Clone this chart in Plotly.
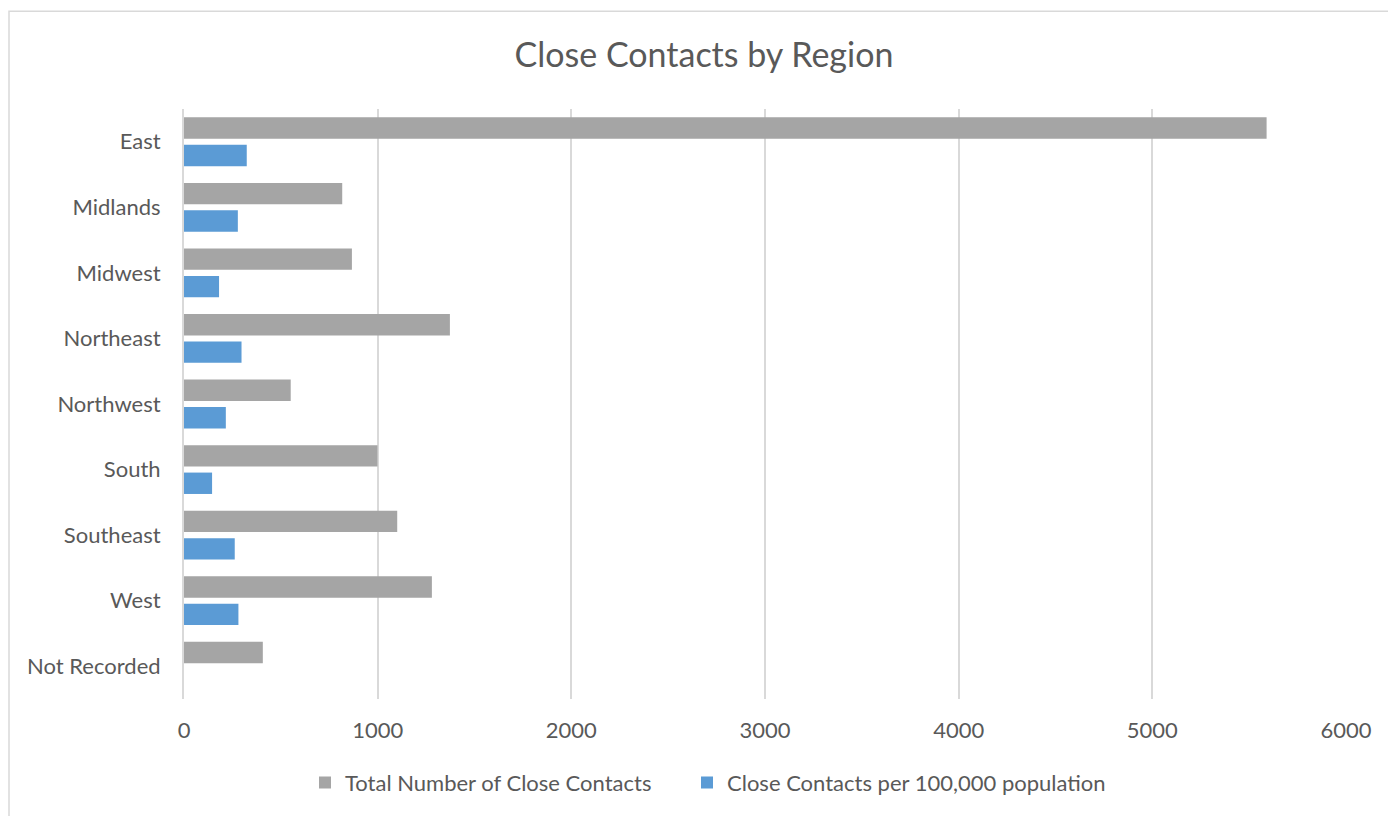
import plotly.graph_objects as go

regions = ["East", "Midlands", "Midwest", "Northeast", "Northwest",
           "South", "Southeast", "West", "Not Recorded"]
total_contacts = [5590, 817, 867, 1373, 551, 999, 1101, 1280, 407]
per_100k = [324, 278, 181, 297, 216, 145, 262, 281, None]

TEXT = "#595959"
FONT = "Lato"

fig = go.Figure()
fig.add_trace(go.Bar(
    y=regions, x=total_contacts, orientation="h",
    name="Total Number of Close Contacts",
    marker=dict(color="#A5A5A5", line=dict(width=0)),
    legend="legend",
))
fig.add_trace(go.Bar(
    y=regions, x=per_100k, orientation="h",
    name="Close Contacts per 100,000 population",
    marker=dict(color="#5B9BD5", line=dict(width=0)),
    legend="legend2",
))

leg_common = dict(orientation="h", xanchor="left", y=-0.1419,
                  yanchor="middle", font=dict(size=22, color=TEXT),
                  itemwidth=30, bgcolor="rgba(0,0,0,0)")

fig.update_layout(
    width=1388, height=816,
    paper_bgcolor="white", plot_bgcolor="white",
    margin=dict(l=184, r=42, t=109, b=115),
    barmode="group", bargap=0.163, bargroupgap=0.22,
    font=dict(family=FONT, color=TEXT, size=22),
    title=dict(text="Close Contacts by Region", x=(704 - 184) / 1162,
               xanchor="center", xref="paper", y=1 - 55 / 816,
               yanchor="middle",
               font=dict(family=FONT, size=34, color=TEXT)),
    xaxis=dict(range=[0, 6000], dtick=1000, showgrid=True,
               gridcolor="#D9D9D9", gridwidth=2, zeroline=False,
               showline=False, ticks="", tickfont=dict(size=22, color=TEXT),
               ticklabelstandoff=16, fixedrange=True),
    yaxis=dict(autorange="reversed", showgrid=False, zeroline=False,
               showline=True, linecolor="#D9D9D9", linewidth=2,
               ticks="", ticklabelstandoff=17, fixedrange=True,
               tickfont=dict(size=22, color=TEXT)),
    legend=dict(x=(305 - 184) / 1162, **leg_common),
    legend2=dict(x=(687 - 184) / 1162, **leg_common),
    shapes=[dict(type="rect", xref="paper", yref="paper",
                 x0=(9 - 184) / 1162, x1=(1400 - 184) / 1162,
                 y0=(701 - 830) / 592, y1=(701 - 11) / 592,
                 line=dict(color="#D9D9D9", width=1.5),
                 fillcolor="rgba(0,0,0,0)", layer="below")],
    showlegend=True,
)

fig.write_html("out.html",
               config={"displayModeBar": False},
               post_script="document.body.style.margin='0';"
                           "document.body.style.overflow='hidden';")
